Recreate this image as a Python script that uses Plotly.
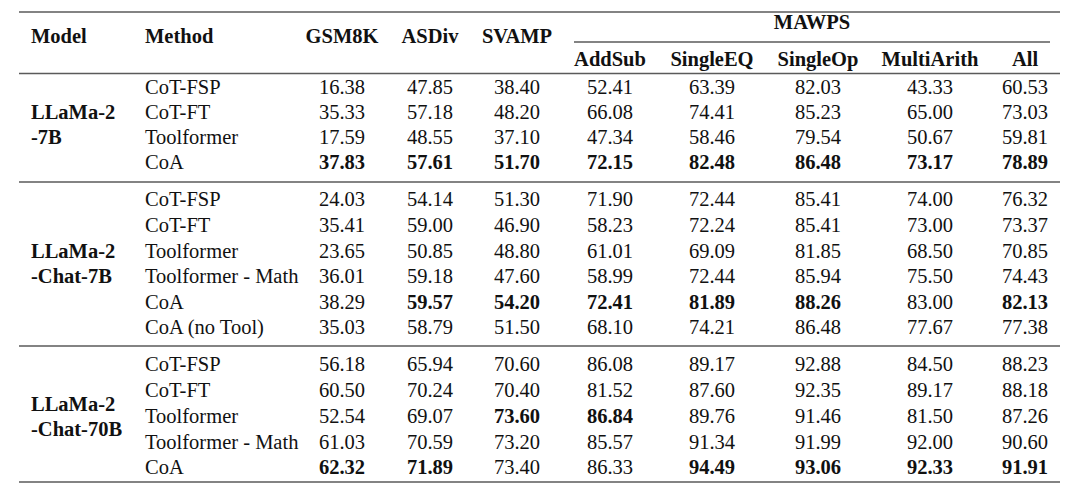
import plotly.graph_objects as go

# ---------------- data ----------------
models = [["LLaMa-2", "-7B"], ["LLaMa-2", "-Chat-7B"], ["LLaMa-2", "-Chat-70B"]]
methods = [
    ["CoT-FSP", "CoT-FT", "Toolformer", "CoA"],
    ["CoT-FSP", "CoT-FT", "Toolformer", "Toolformer - Math", "CoA", "CoA (no Tool)"],
    ["CoT-FSP", "CoT-FT", "Toolformer", "Toolformer - Math", "CoA"],
]
columns = ["GSM8K", "ASDiv", "SVAMP", "AddSub", "SingleEQ", "SingleOp", "MultiArith", "All"]

gsm8k = [[16.38, 35.33, 17.59, 37.83],
         [24.03, 35.41, 23.65, 36.01, 38.29, 35.03],
         [56.18, 60.50, 52.54, 61.03, 62.32]]
asdiv = [[47.85, 57.18, 48.55, 57.61],
         [54.14, 59.00, 50.85, 59.18, 59.57, 58.79],
         [65.94, 70.24, 69.07, 70.59, 71.89]]
svamp = [[38.40, 48.20, 37.10, 51.70],
         [51.30, 46.90, 48.80, 47.60, 54.20, 51.50],
         [70.60, 70.40, 73.60, 73.20, 73.40]]
addsub = [[52.41, 66.08, 47.34, 72.15],
          [71.90, 58.23, 61.01, 58.99, 72.41, 68.10],
          [86.08, 81.52, 86.84, 85.57, 86.33]]
singleeq = [[63.39, 74.41, 58.46, 82.48],
            [72.44, 72.24, 69.09, 72.44, 81.89, 74.21],
            [89.17, 87.60, 89.76, 91.34, 94.49]]
singleop = [[82.03, 85.23, 79.54, 86.48],
            [85.41, 85.41, 81.85, 85.94, 88.26, 86.48],
            [92.88, 92.35, 91.46, 91.99, 93.06]]
multiarith = [[43.33, 65.00, 50.67, 73.17],
              [74.00, 73.00, 68.50, 75.50, 83.00, 77.67],
              [84.50, 89.17, 81.50, 92.00, 92.33]]
mawps_all = [[60.53, 73.03, 59.81, 78.89],
             [76.32, 73.37, 70.85, 74.43, 82.13, 77.38],
             [88.23, 88.18, 87.26, 90.60, 91.91]]
# bold (best) cells: (group, row) per column
bold_cells = {
    "GSM8K": [(0, 3), (2, 4)],
    "ASDiv": [(0, 3), (1, 4), (2, 4)],
    "SVAMP": [(0, 3), (1, 4), (2, 2)],
    "AddSub": [(0, 3), (1, 4), (2, 2)],
    "SingleEQ": [(0, 3), (1, 4), (2, 4)],
    "SingleOp": [(0, 3), (1, 4), (2, 4)],
    "MultiArith": [(0, 3), (2, 4)],
    "All": [(0, 3), (1, 4), (2, 4)],
}
series = [gsm8k, asdiv, svamp, addsub, singleeq, singleop, multiarith, mawps_all]

# ---------------- layout ----------------
FONT = "Liberation Serif"
FS = 20.5
TXT = "#111111"
LINE = "#5a5a5a"
DY = 1.5  # vertical nudge for text

col_x = [342, 430, 517, 610, 712, 818, 930, 1025]
model_x = 31
method_x = 145
row_y = [[87, 112, 137, 162],
         [199, 225, 251, 276, 302, 327],
         [364, 390, 416, 442, 467]]
model_y = [[112, 137], [251, 276], [404, 429]]

fig = go.Figure()

def add_text(xs, ys, texts, pos, bold=False):
    fig.add_trace(go.Scatter(
        x=xs, y=[y + DY for y in ys], text=[f"<b>{t}</b>" if bold else t for t in texts],
        mode="text", textposition=pos,
        textfont=dict(family=FONT, size=FS, color=TXT),
        hoverinfo="skip", showlegend=False))

# headers
add_text([model_x, method_x], [36, 36], ["Model", "Method"], "middle right", bold=True)
add_text(col_x[:3], [36] * 3, columns[:3], "middle center", bold=True)
add_text([812], [22], ["MAWPS"], "middle center", bold=True)
add_text(col_x[3:], [59] * 5, columns[3:], "middle center", bold=True)

# body
for g in range(3):
    add_text([model_x] * 2, model_y[g], models[g], "middle right", bold=True)
    add_text([method_x] * len(methods[g]), row_y[g], methods[g], "middle right")
    for c, (name, s) in enumerate(zip(columns, series)):
        vals = s[g]
        normal_x, normal_y, normal_t = [], [], []
        bold_x, bold_y, bold_t = [], [], []
        for r, v in enumerate(vals):
            if (g, r) in bold_cells[name]:
                bold_x.append(col_x[c]); bold_y.append(row_y[g][r]); bold_t.append(f"{v:.2f}")
            else:
                normal_x.append(col_x[c]); normal_y.append(row_y[g][r]); normal_t.append(f"{v:.2f}")
        add_text(normal_x, normal_y, normal_t, "middle center")
        if bold_t:
            add_text(bold_x, bold_y, bold_t, "middle center", bold=True)

# rules
for y in [12, 73.5, 182, 346, 482]:
    fig.add_shape(type="line", x0=19, x1=1060, y0=y, y1=y, xref="x", yref="y",
                  line=dict(color=LINE, width=1.6))
fig.add_shape(type="line", x0=574, x1=1050, y0=42, y1=42, xref="x", yref="y",
              line=dict(color=LINE, width=1.4))

fig.update_layout(
    width=1080, height=501,
    margin=dict(l=0, r=0, t=0, b=0),
    paper_bgcolor="white", plot_bgcolor="white",
    xaxis=dict(range=[0, 1080], visible=False, fixedrange=True),
    yaxis=dict(range=[501, 0], visible=False, fixedrange=True),
)

fig.write_html("out.html", config={"displayModeBar": False},
               post_script="document.body.style.margin='0';document.body.style.overflow='hidden';")
